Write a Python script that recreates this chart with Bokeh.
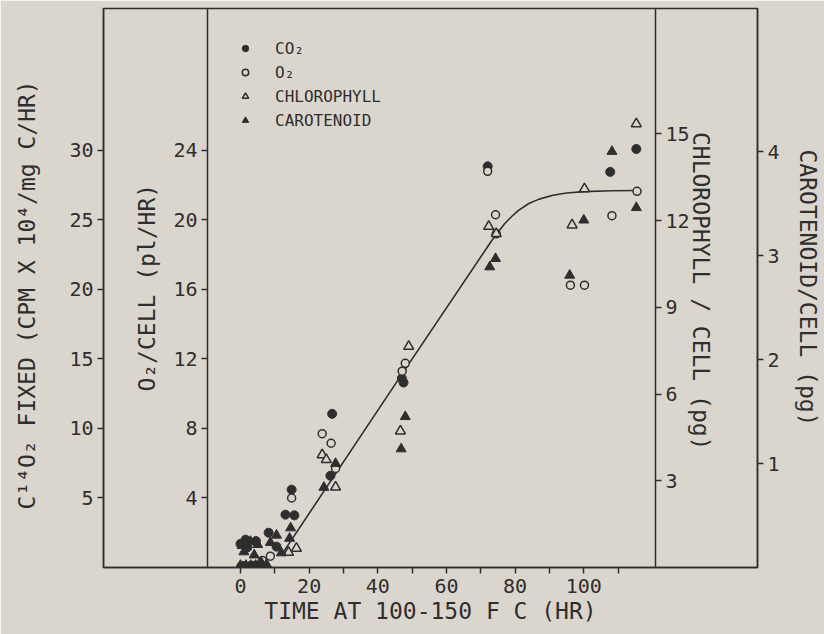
from bokeh.plotting import figure
from bokeh.models import Range1d, LinearAxis, FixedTicker, Label, Legend, LegendItem
from bokeh.embed import file_html
from bokeh.resources import INLINE

# ---------------- data ----------------
# CO2 fixation, plotted against the C14O2 axis
co2_time = [0.3, 1.2, 2.8, 3.9, 5.2, 6.6, 0.0, 1.5, 2.0, 4.5, 8.2, 10.5, 13.1, 15.7,
            14.9, 26.2, 26.7, 47.0, 47.5, 72.0, 107.7, 115.3]
co2_value = [0.1, 0.1, 0.1, 0.12, 0.15, 0.2, 1.7, 2.0, 1.45, 1.9, 2.5, 1.5, 3.8, 3.75,
             5.6, 6.6, 11.05, 13.6, 13.3, 28.85, 28.45, 30.1]

# O2 evolution, plotted against the O2/CELL axis
o2_time = [6.4, 8.7, 14.9, 23.8, 26.4, 27.7, 47.1, 48.0, 72.0, 74.3, 74.5,
           96.1, 100.2, 108.2, 115.5]
o2_value = [0.4, 0.65, 4.0, 7.7, 7.15, 5.7, 11.3, 11.75, 22.8, 20.3, 19.2,
            16.25, 16.25, 20.25, 21.65]

# Chlorophyll per cell
chl_time = [14.0, 16.3, 23.8, 25.0, 27.7, 46.6, 49.0, 72.3, 74.5, 96.6, 100.2, 115.3]
chl_value = [0.52, 0.66, 3.9, 3.73, 2.78, 4.72, 7.65, 11.8, 11.55, 11.85, 13.1, 15.35]

# Carotenoid per cell
car_time = [0.0, 1.6, 3.0, 4.4, 6.0, 7.6, 0.5, 1.0, 2.9, 4.0, 5.0, 8.7, 10.5, 11.9,
            14.6, 14.3, 24.3, 27.7, 46.8, 48.0, 72.6, 74.3, 95.9, 100.0, 108.2, 115.3]
car_value = [0.02, 0.02, 0.02, 0.02, 0.05, 0.03, 0.21, 0.15, 0.25, 0.12, 0.22, 0.24,
             0.31, 0.14, 0.38, 0.28, 0.77, 1.0, 1.14, 1.45, 2.89, 2.97, 2.81, 3.34,
             4.0, 3.46]

# fitted curve (O2 scale)
curve_time = [12.2, 46.6, 72.8, 75.0, 77.0, 79.0, 81.0, 84.0, 87.0, 91.0, 95.0,
              100.0, 108.0, 115.5]
curve_value = [0.8, 11.0, 18.7, 19.3, 19.8, 20.2, 20.55, 20.95, 21.2, 21.42, 21.55,
               21.63, 21.68, 21.7]

x_ticks = [0, 10, 20, 30, 40, 50, 60, 70, 80, 90, 100, 110]
x_tick_labels = ["0", "", "20", "", "40", "", "60", "", "80", "", "100", ""]
c14_ticks = [5, 10, 15, 20, 25, 30]
o2_ticks = [4, 8, 12, 16, 20, 24]
chl_ticks = [3, 6, 9, 12, 15]
car_ticks = [1, 2, 3, 4]

# ---------------- styling ----------------
BG = "#dbd6cd"
INK = "#2e2e2e"
FONT = "DejaVu Sans Mono"
TICK_FS = "20px"
LABEL_FS = "23px"

p = figure(width=824, height=634, output_backend="svg", toolbar_location=None,
           x_range=Range1d(-39.9, 150.6), y_range=Range1d(0, 32.17),
           min_border_left=103, min_border_right=67, min_border_top=8,
           min_border_bottom=67, x_axis_type=None, y_axis_type=None)
p.extra_y_ranges = {"c14": Range1d(0, 40.2), "chl": Range1d(0, 19.34),
                    "car": Range1d(0, 5.375)}
p.background_fill_color = BG
p.border_fill_color = BG
p.outline_line_color = INK
p.outline_line_width = 1.5
p.grid.visible = False


def style_axis(ax, ticks, overrides=None):
    ax.ticker = FixedTicker(ticks=ticks, minor_ticks=[])
    ax.axis_line_color = INK
    ax.axis_line_width = 1.5
    ax.major_tick_line_color = INK
    ax.major_tick_line_width = 1.5
    ax.major_tick_in = 0
    ax.major_tick_out = 6
    ax.minor_tick_line_color = None
    ax.major_label_text_font = FONT
    ax.major_label_text_font_size = TICK_FS
    ax.major_label_text_color = INK
    ax.major_label_standoff = 4
    ax.axis_label_text_font = FONT
    ax.axis_label_text_font_size = LABEL_FS
    ax.axis_label_text_font_style = "normal"
    ax.axis_label_text_color = INK
    if overrides:
        ax.major_label_overrides = overrides


xaxis = LinearAxis(axis_label="TIME AT 100-150 F C (HR)")
style_axis(xaxis, x_ticks, {t: l for t, l in zip(x_ticks, x_tick_labels)})
xaxis.major_label_standoff = 5
xaxis.axis_label_standoff = 2
p.add_layout(xaxis, "below")

c14_axis = LinearAxis(y_range_name="c14",
                      axis_label="C¹⁴O₂  FIXED (CPM X 10⁴/mg C/HR)")
style_axis(c14_axis, c14_ticks)
c14_axis.axis_label_standoff = 26
p.add_layout(c14_axis, "left")

o2_axis = LinearAxis(fixed_location=-9.6)
style_axis(o2_axis, o2_ticks)
p.add_layout(o2_axis, "left")

chl_axis = LinearAxis(y_range_name="chl", fixed_location=120.9)
style_axis(chl_axis, chl_ticks)
p.add_layout(chl_axis, "right")

car_axis = LinearAxis(y_range_name="car", axis_label="CAROTENOID/CELL (pg)")
style_axis(car_axis, car_ticks)
car_axis.axis_label_standoff = 12
p.add_layout(car_axis, "right")

p.add_layout(Label(x=-27.1, y=16.1, text="O₂/CELL (pl/HR)", angle=90, angle_units="deg",
                   text_align="center", text_baseline="middle", text_font=FONT,
                   text_font_size=LABEL_FS, text_color=INK))
p.add_layout(Label(x=134.0, y=15.9, text="CHLOROPHYLL / CELL (pg)", angle=-90,
                   angle_units="deg", text_align="center", text_baseline="middle",
                   text_font=FONT, text_font_size=LABEL_FS, text_color=INK))

# ---------------- glyphs ----------------
p.line(curve_time, curve_value, line_color=INK, line_width=1.6)

r_co2 = p.scatter(co2_time, co2_value, y_range_name="c14", marker="circle", size=9,
                  fill_color=INK, line_color=INK)
r_o2 = p.scatter(o2_time, o2_value, marker="circle", size=8, fill_color=BG,
                 line_color=INK, line_width=1.5)
r_chl = p.scatter(chl_time, chl_value, y_range_name="chl", marker="triangle", size=10,
                  fill_color=BG, line_color=INK, line_width=1.5)
r_car = p.scatter(car_time, car_value, y_range_name="car", marker="triangle", size=10,
                  fill_color=INK, line_color=INK)

legend = Legend(items=[LegendItem(label="CO₂", renderers=[r_co2]),
                       LegendItem(label="O₂", renderers=[r_o2]),
                       LegendItem(label="CHLOROPHYLL", renderers=[r_chl]),
                       LegendItem(label="CAROTENOID", renderers=[r_car])],
                location=(134, 437), padding=0, margin=0, spacing=4,
                glyph_width=16, glyph_height=20, label_height=20, label_standoff=22,
                label_text_font=FONT, label_text_font_size="16px",
                label_text_color=INK, border_line_color=None,
                background_fill_alpha=0)
p.add_layout(legend, "center")

open("out.html", "w").write(file_html(p, INLINE))
